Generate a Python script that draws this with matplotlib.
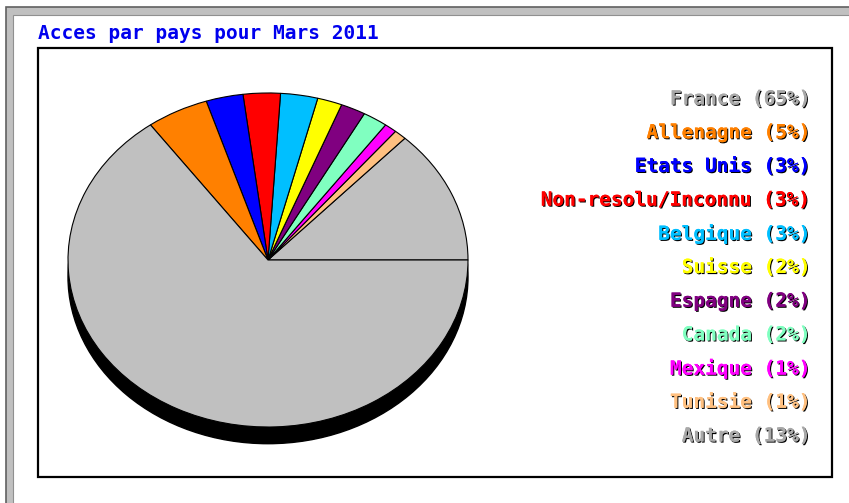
import matplotlib
matplotlib.use('Agg')
import matplotlib.pyplot as plt
import matplotlib.patheffects as pe
from matplotlib.patches import Rectangle, Ellipse

# Donnees (ordre de la legende)
pays = ['France', 'Allemagne', 'Etats Unis', 'Non-resolu/Inconnu', 'Belgique',
        'Suisse', 'Espagne', 'Canada', 'Mexique', 'Tunisie', 'Autre']
etiquettes = ['France', 'Allenagne', 'Etats Unis', 'Non-resolu/Inconnu', 'Belgique',
              'Suisse', 'Espagne', 'Canada', 'Mexique', 'Tunisie', 'Autre']
pourcents = [65, 5, 3, 3, 3, 2, 2, 2, 1, 1, 13]
couleurs = ['#c0c0c0', '#ff8000', '#0000ff', '#ff0000', '#00bfff',
            '#ffff00', '#800080', '#80ffc0', '#ff00ff', '#ffc080', '#c0c0c0']
couleurs_texte = ['#a8a8a8', '#ff8000', '#0000ff', '#ff0000', '#00bfff',
                  '#ffff00', '#800080', '#80ffc0', '#ff00ff', '#ffc080', '#a8a8a8']

titre = 'Acces par pays pour Mars 2011'

W, H = 849, 503
fig = plt.figure(figsize=(W / 100, H / 100), dpi=100)

def fx(px):
    return px / W

def fy(py):
    return 1 - py / H

# Cadre exterieur gris
fig.patches.append(Rectangle((fx(6), fy(510)), fx(900), fy(7) - fy(510),
                             transform=fig.transFigure, facecolor='#c0c0c0',
                             edgecolor='#606060', linewidth=1.2, zorder=-10))
fig.patches.append(Rectangle((fx(13), fy(510)), fx(900), fy(15) - fy(510),
                             transform=fig.transFigure, facecolor='white',
                             edgecolor='#909090', linewidth=0.8, zorder=-9))

# Cadre interieur
fig.patches.append(Rectangle((fx(38), fy(477)), fx(832 - 38), fy(48) - fy(477),
                             transform=fig.transFigure, facecolor='white',
                             edgecolor='black', linewidth=1.6, zorder=-8))

fig.text(fx(38), fy(33), titre, color='#0000ee', fontsize=14,
         family='DejaVu Sans Mono', fontweight='bold', va='center', ha='left')

# Camembert elliptique
ax = fig.add_axes([fx(68), fy(427), fx(400), fy(93) - fy(427)])
ax.patch.set_visible(False)
ax.add_patch(Ellipse((0, -0.1), 2, 2, facecolor='black', edgecolor='black',
                     clip_on=False, zorder=0))
ax.pie(pourcents[::-1], colors=couleurs[::-1], startangle=0, counterclock=True,
       wedgeprops=dict(edgecolor='black', linewidth=0.8))
ax.set_aspect('auto')
ax.set_xlim(-1, 1)
ax.set_ylim(-1, 1)
ax.axis('off')
for p in ax.patches:
    p.set_clip_on(False)

# Legende
ombre = [pe.withSimplePatchShadow(offset=(0.8, -0.8), shadow_rgbFace='black', alpha=1.0),
         pe.Normal()]
for i, (nom, pc, c) in enumerate(zip(etiquettes, pourcents, couleurs_texte)):
    y = 99 + i * 33.7
    fig.text(fx(811), fy(y), f'{nom} ({pc}%)', color=c, fontsize=14,
             family='DejaVu Sans Mono', fontweight='bold', ha='right', va='center',
             path_effects=ombre)

fig.savefig('out.png', dpi=100)
